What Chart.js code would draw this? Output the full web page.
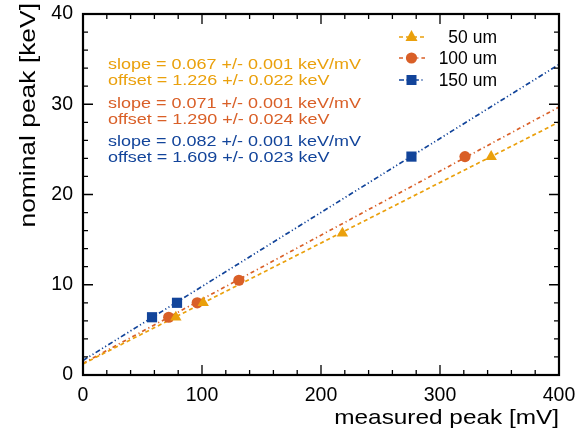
<!DOCTYPE html>
<html>
<head>
<meta charset="utf-8">
<script src="https://cdn.jsdelivr.net/npm/chart.js@4/dist/chart.umd.min.js"></script>
<style>
  html, body { margin: 0; padding: 0; background: #fff; }
  #wrap { width: 578px; height: 432px; }
</style>
</head>
<body>
<div id="wrap"><canvas id="c" width="578" height="432"></canvas></div>
<script>
// Series labels and colours
const seriesNames = ['50 um', '100 um', '150 um'];
const seriesColors = ['#EAA00C', '#D95F27', '#12449A'];
const seriesMarkers = ['triangle', 'circle', 'rect'];
const seriesRadius = [6.6, 5.6, 7.2];
const seriesDash = [[4, 3], [4, 3, 1.2, 3], [5, 2.5, 1.2, 2.5, 1.2, 2.5]];

// Measured peak [mV] vs nominal peak [keV]
const x50 = [78, 101, 218, 343];
const y50 = [6.4, 8.0, 15.7, 24.2];
const x100 = [72, 96, 131, 321];
const y100 = [6.4, 8.0, 10.5, 24.2];
const x150 = [58, 79, 276];
const y150 = [6.4, 8.0, 24.2];

// Linear fit results
const fitSlope = [0.067, 0.071, 0.082];
const fitSlopeErr = ['0.001', '0.001', '0.001'];
const fitOffset = [1.226, 1.290, 1.609];
const fitOffsetErr = ['0.022', '0.024', '0.023'];
const fitRange = [0, 400];

// Axis ticks
const xMajor = [0, 100, 200, 300, 400];
const yMajor = [0, 10, 20, 30, 40];
const xMinorStep = 20;
const yMinorStep = 2;

const font = "'Liberation Sans', Arial, Helvetica, sans-serif";

function pts(xs, ys) {
  return xs.map((x, i) => ({ x: x, y: ys[i] }));
}
function fitLine(i) {
  return fitRange.map(x => ({ x: x, y: fitOffset[i] + fitSlope[i] * x }));
}

const pointSets = [pts(x50, y50), pts(x100, y100), pts(x150, y150)];

const datasets = [];
// fit lines first so markers sit on top
[0, 1, 2].forEach(i => {
  datasets.push({
    type: 'line',
    data: fitLine(i),
    borderColor: seriesColors[i],
    borderWidth: 1.7,
    borderDash: seriesDash[i],
    pointRadius: 0,
    fill: false,
    order: 2
  });
});
[0, 1, 2].forEach(i => {
  datasets.push({
    type: 'scatter',
    data: pointSets[i],
    backgroundColor: seriesColors[i],
    borderColor: seriesColors[i],
    pointStyle: seriesMarkers[i],
    pointRadius: seriesRadius[i],
    borderWidth: 0,
    order: 1
  });
});

// stretched text helper (the reference lettering is wide)
function wideText(ctx, str, x, y, sx) {
  ctx.save();
  ctx.translate(x, y);
  ctx.scale(sx, 1);
  ctx.fillText(str, 0, 0);
  ctx.restore();
}

// Inward major/minor ticks on all four sides, frame, titles, fit text and legend
const decor = {
  id: 'decor',
  afterDatasetsDraw(chart) {
    const { ctx, chartArea: a, scales } = chart;
    const xs = scales.x, ys = scales.y;
    ctx.save();
    ctx.strokeStyle = '#000';
    ctx.lineWidth = 1.3;
    ctx.beginPath();
    for (let v = 0; v <= 400; v += xMinorStep) {
      const px = xs.getPixelForValue(v);
      const len = xMajor.includes(v) ? 10 : 5;
      ctx.moveTo(px, a.bottom); ctx.lineTo(px, a.bottom - len);
      ctx.moveTo(px, a.top); ctx.lineTo(px, a.top + len);
    }
    for (let v = 0; v <= 40; v += yMinorStep) {
      const py = ys.getPixelForValue(v);
      const len = yMajor.includes(v) ? 10 : 5;
      ctx.moveTo(a.left, py); ctx.lineTo(a.left + len, py);
      ctx.moveTo(a.right, py); ctx.lineTo(a.right - len, py);
    }
    ctx.stroke();
    ctx.lineWidth = 2.2;
    ctx.strokeRect(a.left, a.top, a.right - a.left, a.bottom - a.top);

    // axis titles
    ctx.fillStyle = '#000';
    ctx.font = '21px ' + font;
    ctx.textBaseline = 'alphabetic';
    ctx.textAlign = 'right';
    wideText(ctx, 'measured peak [mV]', a.right, 424, 1.16);
    ctx.save();
    ctx.translate(35, 3);
    ctx.rotate(-Math.PI / 2);
    ctx.font = '22px ' + font;
    ctx.textAlign = 'right';
    wideText(ctx, 'nominal peak [keV]', 0, 0, 1.2);
    ctx.restore();

    // fit annotation text
    ctx.font = '15.5px ' + font;
    ctx.textAlign = 'left';
    const textY = [[69, 85], [108, 124], [146, 162]];
    [0, 1, 2].forEach(i => {
      ctx.fillStyle = seriesColors[i];
      wideText(ctx, 'slope = ' + fitSlope[i].toFixed(3) + ' +/- ' + fitSlopeErr[i] + ' keV/mV', 108, textY[i][0], 1.16);
      wideText(ctx, 'offset = ' + fitOffset[i].toFixed(3) + ' +/- ' + fitOffsetErr[i] + ' keV', 108, textY[i][1], 1.16);
    });

    // legend
    const legY = [37, 58, 80];
    ctx.font = '17.5px ' + font;
    ctx.textAlign = 'right';
    ctx.textBaseline = 'middle';
    [0, 1, 2].forEach(i => {
      const y = legY[i];
      ctx.strokeStyle = seriesColors[i];
      ctx.lineWidth = 1.7;
      ctx.setLineDash(seriesDash[i]);
      ctx.beginPath();
      ctx.moveTo(399, y); ctx.lineTo(425, y);
      ctx.stroke();
      ctx.setLineDash([]);
      ctx.fillStyle = seriesColors[i];
      ctx.beginPath();
      if (seriesMarkers[i] === 'triangle') {
        ctx.moveTo(411.5, y - 7); ctx.lineTo(417.5, y + 4); ctx.lineTo(405.5, y + 4); ctx.closePath();
      } else if (seriesMarkers[i] === 'circle') {
        ctx.arc(411.5, y, 5.6, 0, Math.PI * 2);
      } else {
        ctx.rect(406.5, y - 5, 10, 10);
      }
      ctx.fill();
      ctx.fillStyle = '#000';
      ctx.fillText(seriesNames[i], 497, y + 1);
    });
    ctx.restore();
  }
};

new Chart(document.getElementById('c'), {
  data: { datasets: datasets },
  options: {
    responsive: false,
    animation: false,
    layout: { padding: { top: 14, right: 19, left: 0, bottom: 0 } },
    plugins: { legend: { display: false }, tooltip: { enabled: false } },
    scales: {
      x: {
        type: 'linear', min: 0, max: 400,
        afterBuildTicks: s => { s.ticks = xMajor.map(v => ({ value: v })); },
        grid: { display: false, drawTicks: false },
        border: { display: false },
        ticks: { color: '#000', font: { family: font, size: 19.5 }, padding: 9, maxRotation: 0 },
        afterFit: s => { s.height = 57; s.paddingLeft = 0; s.paddingRight = 0; }
      },
      y: {
        type: 'linear', min: 0, max: 40,
        afterBuildTicks: s => { s.ticks = yMajor.map(v => ({ value: v })); },
        grid: { display: false, drawTicks: false },
        border: { display: false },
        ticks: { color: '#000', font: { family: font, size: 19.5 }, padding: 10 },
        afterFit: s => { s.width = 83; s.paddingTop = 0; s.paddingBottom = 0; }
      }
    }
  },
  plugins: [decor]
});
</script>
</body>
</html>
